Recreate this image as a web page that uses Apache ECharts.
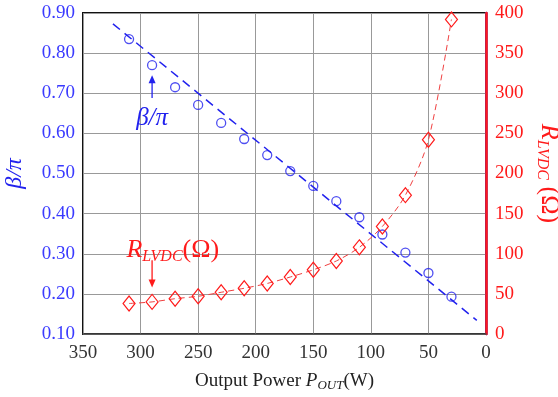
<!DOCTYPE html>
<html><head><meta charset="utf-8">
<script src="https://cdn.jsdelivr.net/npm/echarts@6/dist/echarts.min.js"></script>
<style>html,body{margin:0;padding:0;background:#fff}#c{width:558px;height:397px}</style>
</head><body><div id="c"></div>
<script>
const power = [310, 290, 270, 250, 230, 210, 190, 170, 150, 130, 110, 90, 70, 50, 30];
const betaOverPi = [0.835, 0.770, 0.715, 0.671, 0.626, 0.586, 0.546, 0.506, 0.469, 0.431, 0.391, 0.348, 0.303, 0.252, 0.193];
const rLvdc = [38, 40, 44, 47, 52, 57, 63, 71, 80, 91, 108, 134, 173, 242, 392];
const fitPower = [324, 8];
const fitBeta = [0.873, 0.134];
const serif = '"Liberation Serif","DejaVu Serif",serif';
const BLUE = '#2222ee', RED = '#ff1a1a';

const chart = echarts.init(document.getElementById('c'), null, {renderer: 'canvas'});
const option = {
  animation: false,
  backgroundColor: '#fff',
  grid: {left: 83, right: 72, top: 13, bottom: 63, containLabel: false, outerBoundsMode: 'none',
         show: true, borderColor: '#111', borderWidth: 2, backgroundColor: 'transparent'},
  xAxis: {
    type: 'value', inverse: true, min: 0, max: 350, interval: 50,
    name: '{n|Output Power }{i|P}{s|OUT}{n|(W)}', nameLocation: 'middle', nameGap: 36,
    nameTextStyle: {rich: {
      n: {fontFamily: serif, fontSize: 19, color: '#222'},
      i: {fontFamily: serif, fontSize: 19, fontStyle: 'italic', color: '#222'},
      s: {fontFamily: serif, fontSize: 13, fontStyle: 'italic', color: '#222', verticalAlign: 'bottom', padding: [9, 0, 0, 0]}
    }},
    axisLine: {show: true, lineStyle: {color: '#444', width: 1.5}},
    axisTick: {show: false},
    axisLabel: {fontFamily: serif, fontSize: 19, color: '#333', margin: 10},
    splitLine: {show: true, lineStyle: {color: '#999', width: 1}}
  },
  yAxis: [{
    type: 'value', min: 0.1, max: 0.9, interval: 0.1, position: 'left',
    name: 'β/π', nameLocation: 'middle', nameGap: 56, nameRotate: 90,
    nameTextStyle: {fontFamily: serif, fontSize: 24, fontStyle: 'italic', color: BLUE},
    axisLine: {show: true, lineStyle: {color: '#2a2aff', width: 2.5}},
    axisTick: {show: false},
    axisLabel: {fontFamily: serif, fontSize: 19, color: '#3a3aff', margin: 8, formatter: v => v.toFixed(2)},
    splitLine: {show: true, lineStyle: {color: '#999', width: 1}}
  }, {
    type: 'value', min: 0, max: 400, interval: 50, position: 'right',
    name: '{i|R}{s|LVDC}{n| (Ω)}', nameLocation: 'middle', nameGap: 46, nameRotate: -90,
    nameTextStyle: {rich: {
      i: {fontFamily: serif, fontSize: 26, fontStyle: 'italic', color: RED},
      s: {fontFamily: serif, fontSize: 16, fontStyle: 'italic', color: RED, verticalAlign: 'bottom', padding: [12, 0, 0, 0]},
      n: {fontFamily: serif, fontSize: 26, color: RED}
    }},
    axisLine: {show: true, lineStyle: {color: RED, width: 2.5}},
    axisTick: {show: false},
    axisLabel: {fontFamily: serif, fontSize: 19, color: RED, margin: 9},
    splitLine: {show: false}
  }],
  series: [{
    type: 'line', yAxisIndex: 0, data: fitPower.map((p, i) => [p, fitBeta[i]]),
    showSymbol: false, symbol: 'none', silent: true,
    lineStyle: {color: BLUE, width: 1.5, type: [9, 6]}, z: 3
  }, {
    type: 'scatter', yAxisIndex: 0, data: power.map((p, i) => [p, betaOverPi[i]]),
    symbol: 'circle', symbolSize: 9,
    itemStyle: {color: 'transparent', borderColor: BLUE, borderWidth: 1.3}, z: 4
  }, {
    type: 'line', yAxisIndex: 1, data: power.map((p, i) => [p, rLvdc[i]]),
    smooth: 0.3, symbol: 'diamond', symbolSize: [12, 15], showSymbol: true,
    lineStyle: {color: '#f04040', width: 1, type: [6, 4]},
    itemStyle: {color: 'transparent', borderColor: RED, borderWidth: 1.2}, z: 4
  }]
};
chart.setOption(option);

function addAnnotations() {
  const a1s = chart.convertToPixel({xAxisIndex: 0, yAxisIndex: 0}, [290, 0.688]);
  const a1e = chart.convertToPixel({xAxisIndex: 0, yAxisIndex: 0}, [290, 0.745]);
  const t1 = chart.convertToPixel({xAxisIndex: 0, yAxisIndex: 0}, [290, 0.638]);
  const a2s = chart.convertToPixel({xAxisIndex: 0, yAxisIndex: 1}, [290, 92]);
  const a2e = chart.convertToPixel({xAxisIndex: 0, yAxisIndex: 1}, [290, 58]);
  const t2 = chart.convertToPixel({xAxisIndex: 0, yAxisIndex: 1}, [272, 104]);
  function arrow(s, e, color) {
    const dir = e[1] < s[1] ? -1 : 1;
    return [{
      type: 'line', shape: {x1: s[0], y1: s[1], x2: e[0], y2: e[1] - dir * 6},
      style: {stroke: color, lineWidth: 1.3}, z: 10
    }, {
      type: 'polygon', shape: {points: [[e[0], e[1]], [e[0] - 3.5, e[1] - dir * 8], [e[0] + 3.5, e[1] - dir * 8]]},
      style: {fill: color}, z: 10
    }];
  }
  chart.setOption({graphic: [
    ...arrow(a1s, a1e, BLUE),
    ...arrow(a2s, a2e, RED),
    {type: 'text', x: t1[0], y: t1[1], z: 10,
     style: {text: 'β/π', font: 'italic 25px ' + serif, fill: BLUE, align: 'center', verticalAlign: 'middle'}},
    {type: 'text', x: t2[0], y: t2[1], z: 10,
     style: {text: '{i|R}{s|LVDC}{n|(Ω)}', align: 'center', verticalAlign: 'middle',
       rich: {
         i: {fontFamily: serif, fontSize: 26, fontStyle: 'italic', fill: RED},
         s: {fontFamily: serif, fontSize: 16, fontStyle: 'italic', fill: RED, verticalAlign: 'bottom', padding: [12, 0, 0, 0]},
         n: {fontFamily: serif, fontSize: 26, fill: RED}
       }}}
  ]});
}
addAnnotations();
</script></body></html>
